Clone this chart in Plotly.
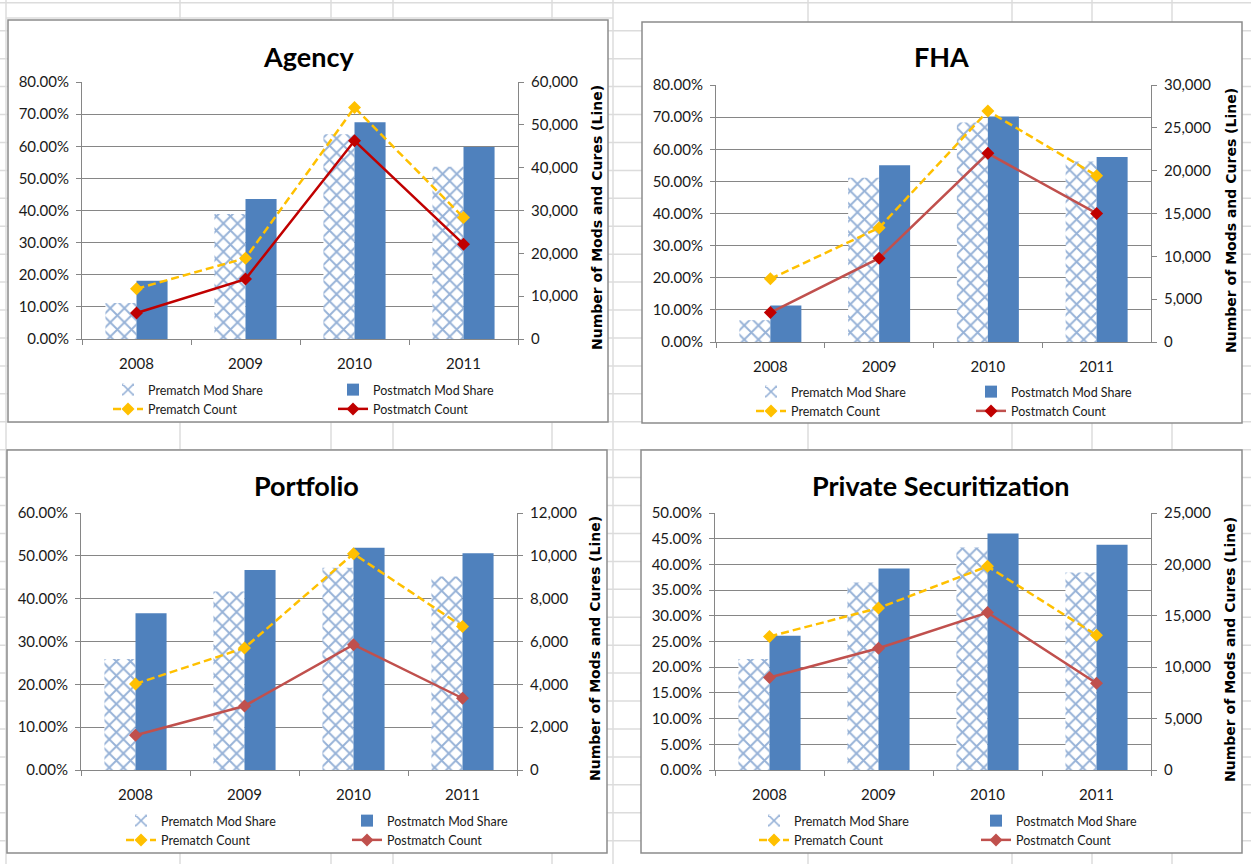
import plotly.graph_objects as go

# ---------------------------------------------------------------- data
years = ["2008", "2009", "2010", "2011"]

agency_pre_share = [0.112, 0.389, 0.637, 0.536]
agency_post_share = [0.181, 0.436, 0.675, 0.598]
agency_pre_count = [11720, 18870, 54040, 28340]
agency_post_count = [6060, 13980, 46270, 22130]

fha_pre_share = [0.068, 0.511, 0.683, 0.562]
fha_post_share = [0.114, 0.550, 0.702, 0.576]
fha_pre_count = [7370, 13330, 26970, 19410]
fha_post_count = [3430, 9780, 22020, 15010]

portfolio_pre_share = [0.259, 0.417, 0.472, 0.452]
portfolio_post_share = [0.366, 0.467, 0.519, 0.506]
portfolio_pre_count = [4020, 5700, 10100, 6700]
portfolio_post_count = [1620, 2990, 5850, 3350]

private_pre_share = [0.216, 0.365, 0.433, 0.384]
private_post_share = [0.261, 0.392, 0.460, 0.438]
private_pre_count = [12990, 15750, 19810, 13120]
private_post_count = [8990, 11850, 15320, 8440]

titles = ["Agency", "FHA", "Portfolio", "Private Securitization"]
share_axes = [(0.8, 0.1), (0.8, 0.1), (0.6, 0.1), (0.5, 0.05)]
count_axes = [(60000, 10000), (30000, 5000), (12000, 2000), (25000, 5000)]

series_names = ["Prematch Mod Share", "Postmatch Mod Share",
                "Prematch Count", "Postmatch Count"]
count_title = "Number of Mods and Cures (Line)"

data = [
    (agency_pre_share, agency_post_share, agency_pre_count, agency_post_count),
    (fha_pre_share, fha_post_share, fha_pre_count, fha_post_count),
    (portfolio_pre_share, portfolio_post_share, portfolio_pre_count, portfolio_post_count),
    (private_pre_share, private_post_share, private_pre_count, private_post_count),
]

# ---------------------------------------------------------------- geometry (px)
W, H = 1251, 864


def fx(p):
    return p / W


def fy(p):
    return 1 - p / H


# plot area: left, right, top, bottom
plot_boxes = [(82, 518, 82, 339), (716, 1151, 85, 342),
              (81, 517, 513, 770), (715, 1151, 513, 770)]
# outer chart frame
frames = [(8, 608, 20, 422), (642, 1242, 22, 423),
          (7, 607, 450, 853), (641, 1242, 450, 853)]
title_pos = [(308, 57), (941, 57), (306, 485), (941, 485)]
count_title_pos = [(597, 218), (1231, 221), (595, 649), (1230, 650)]
legend_cols = [(148, 373), (791, 1011), (161, 387), (794, 1016)]
legend_rows = [385, 387, 816, 816]

post_line_colors = ["#C00000", "#C0504D", "#C0504D", "#C0504D"]
post_marker_colors = ["#C00000", "#C00000", "#C0504D", "#C0504D"]

BLUE = "#4F81BD"
HATCH_BLUE = "#2F66B0"
GOLD = "#FFC000"
AXIS_GRAY = "#868686"
SHEET_GRAY = "#DCDCDC"
NUM_FONT = "Lato, Open Sans, sans-serif"
TITLE_FONT = "Lato, Open Sans, sans-serif"
YT_FONT = "DejaVu Sans, Verdana, sans-serif"

fig = go.Figure()
shapes = []
annotations = []
layout = {}

# ---------------------------------------------------------------- worksheet grid behind the charts
k = 0
while 2.8 + 27.93 * k < H:
    y = 2.8 + 27.93 * k
    shapes.append(dict(type="line", xref="paper", yref="paper", x0=0, x1=1,
                       y0=fy(y), y1=fy(y), layer="below",
                       line=dict(color=SHEET_GRAY, width=1.5)))
    k += 1
shapes.append(dict(type="line", xref="paper", yref="paper", x0=fx(6), x1=fx(613),
                   y0=fy(18), y1=fy(18), layer="below",
                   line=dict(color=SHEET_GRAY, width=1.5)))
for xc in [6, 180, 331, 393, 552, 613, 808, 1012, 1092, 1172]:
    shapes.append(dict(type="line", xref="paper", yref="paper", x0=fx(xc), x1=fx(xc),
                       y0=0, y1=1, layer="below",
                       line=dict(color=SHEET_GRAY, width=1.5)))

for (l, r, t, b) in frames:
    shapes.append(dict(type="rect", xref="paper", yref="paper",
                       x0=fx(l), x1=fx(r), y0=fy(b), y1=fy(t), layer="below",
                       fillcolor="white", line=dict(color="#8C8C8C", width=1.5)))

# ---------------------------------------------------------------- panels
for i in range(4):
    pre_share, post_share, pre_count, post_count = data[i]
    xs = "" if i == 0 else str(i + 1)
    xname = "x" + xs
    yl = 2 * i + 1
    yr = 2 * i + 2
    yl_name = "y" if yl == 1 else "y%d" % yl
    yr_name = "y%d" % yr
    leg_a = "legend" if i == 0 else "legend%d" % (2 * i + 1)
    leg_b = "legend%d" % (2 * i + 2)

    fig.add_trace(go.Bar(
        x=years, y=pre_share, name=series_names[0], xaxis=xname, yaxis=yl_name,
        legend=leg_a, offsetgroup="pre",
        marker=dict(color="white", line=dict(width=0),
                    pattern=dict(shape="x", fgcolor=HATCH_BLUE, bgcolor="white",
                                 size=10, solidity=0.35)),
    ))
    fig.add_trace(go.Bar(
        x=years, y=post_share, name=series_names[1], xaxis=xname, yaxis=yl_name,
        legend=leg_b, offsetgroup="post",
        marker=dict(color=BLUE, line=dict(width=0)),
    ))
    fig.add_trace(go.Scatter(
        x=years, y=pre_count, name=series_names[2], xaxis=xname, yaxis=yr_name,
        legend=leg_a, mode="lines+markers",
        line=dict(color=GOLD, width=2.5, dash="8px,4px"),
        marker=dict(symbol="diamond", size=10, color=GOLD),
    ))
    fig.add_trace(go.Scatter(
        x=years, y=post_count, name=series_names[3], xaxis=xname, yaxis=yr_name,
        legend=leg_b, mode="lines+markers",
        line=dict(color=post_line_colors[i], width=2.5),
        marker=dict(symbol="diamond", size=10, color=post_marker_colors[i]),
    ))

    l, r, t, b = plot_boxes[i]
    smax, sstep = share_axes[i]
    cmax, cstep = count_axes[i]

    layout["xaxis" + xs] = dict(
        domain=[fx(l), fx(r)], anchor=yl_name, type="category",
        showline=True, linecolor=AXIS_GRAY, linewidth=1,
        ticks="outside", tickson="boundaries", ticklen=5, tickcolor=AXIS_GRAY,
        tickfont=dict(family=NUM_FONT, size=15, color="#1A1A1A"),
        ticklabelstandoff=11, showgrid=False, zeroline=False, fixedrange=True,
        automargin=False,
    )
    layout["yaxis" + ("" if yl == 1 else str(yl))] = dict(
        domain=[fy(b), fy(t)], anchor=xname, range=[0, smax], dtick=sstep,
        tick0=0, tickformat=".2%", showgrid=True, gridcolor=AXIS_GRAY, gridwidth=1,
        showline=True, linecolor=AXIS_GRAY, ticks="outside", ticklen=5,
        tickcolor=AXIS_GRAY, zeroline=False, automargin=False,
        tickfont=dict(family=NUM_FONT, size=15, color="#1A1A1A"),
        ticklabelstandoff=4,
    )
    layout["yaxis%d" % yr] = dict(
        domain=[fy(b), fy(t)], anchor=xname, overlaying=yl_name, side="right",
        range=[0, cmax], dtick=cstep, tick0=0, tickformat=",d", showgrid=False,
        showline=True, linecolor=AXIS_GRAY, ticks="outside", ticklen=5,
        tickcolor=AXIS_GRAY, zeroline=False, automargin=False,
        tickfont=dict(family=NUM_FONT, size=15, color="#1A1A1A"),
        ticklabelstandoff=4,
    )

    tx, ty = title_pos[i]
    annotations.append(dict(text="<b>%s</b>" % titles[i], xref="paper", yref="paper",
                            x=fx(tx), y=fy(ty), showarrow=False,
                            xanchor="center", yanchor="middle",
                            font=dict(family=TITLE_FONT, size=27, color="#000000")))
    cx, cy = count_title_pos[i]
    annotations.append(dict(text="<b>%s</b>" % count_title, xref="paper", yref="paper",
                            x=fx(cx), y=fy(cy), showarrow=False, textangle=-90,
                            xanchor="center", yanchor="middle",
                            font=dict(family=YT_FONT, size=14, color="#000000")))

    ca, cb = legend_cols[i]
    row = legend_rows[i]
    for name, col in ((leg_a, ca), (leg_b, cb)):
        layout[name] = dict(
            x=fx(col - 40), y=fy(row - 10), xanchor="left", yanchor="top",
            orientation="v", bgcolor="rgba(0,0,0,0)", borderwidth=0,
            font=dict(family=NUM_FONT, size=12.5, color="#1A1A1A"),
            itemwidth=30, tracegroupgap=0, itemclick=False, itemdoubleclick=False,
        )

fig.update_layout(
    width=W, height=H, autosize=False,
    margin=dict(l=0, r=0, t=0, b=0, pad=0, autoexpand=False),
    paper_bgcolor="white", plot_bgcolor="rgba(0,0,0,0)",
    barmode="group", bargap=0.43, bargroupgap=0,
    showlegend=True, shapes=shapes, annotations=annotations,
    **layout,
)

fig.write_html("out.html")
